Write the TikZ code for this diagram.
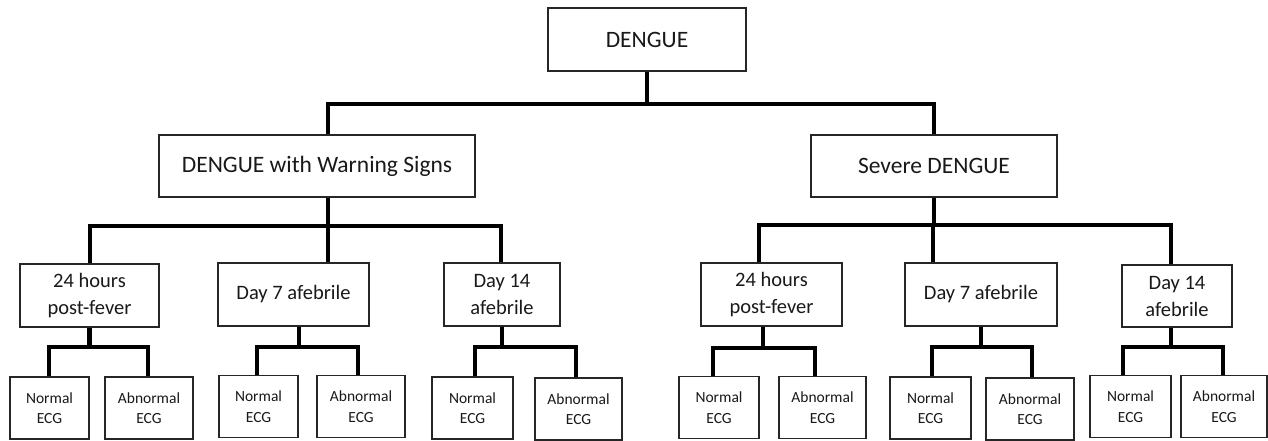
\documentclass[tikz,border=0pt]{standalone}
\usepackage{fontspec}
\setmainfont{Carlito}
\begin{document}
\begin{tikzpicture}[x=1pt,y=-1pt,
  box/.style={draw=black!85,line width=1.3pt,fill=white,inner sep=0pt,align=center,text=black!90},
  big/.style={box,font=\fontsize{23.5}{28}\selectfont},
  mid/.style={box,font=\fontsize{20.5}{27}\selectfont},
  ecg/.style={box,font=\fontsize{15.5}{20.5}\selectfont},
  conn/.style={line width=4.2pt,black}]
\useasboundingbox (0,0) rectangle (1268,440);
% level 0
\node[big,minimum width=198pt,minimum height=63pt] (root) at (647,39.5) {DENGUE};
% level 1
\node[big,minimum width=316pt,minimum height=62pt] (dw) at (317,166) {DENGUE with Warning Signs};
\node[big,minimum width=246pt,minimum height=62pt] (sd) at (934,166) {Severe DENGUE};
% level 2
\node[mid,minimum width=139pt,minimum height=63pt] (l1) at (89.5,295.5) {24 hours\\post-fever};
\node[mid,minimum width=151pt,minimum height=63pt] (l2) at (293.5,294.5) {Day 7 afebrile};
\node[mid,minimum width=116pt,minimum height=63pt] (l3) at (502,294.5) {Day 14\\afebrile};
\node[mid,minimum width=141pt,minimum height=63pt] (r1) at (771.5,294.5) {24 hours\\post-fever};
\node[mid,minimum width=152pt,minimum height=63pt] (r2) at (981,294.5) {Day 7 afebrile};
\node[mid,minimum width=110pt,minimum height=62pt] (r3) at (1177,296) {Day 14\\afebrile};
% level 3
\node[ecg,minimum width=79pt,minimum height=62pt] (l1n) at (49.5,408) {Normal\\ECG};
\node[ecg,minimum width=88pt,minimum height=62pt] (l1a) at (149,408) {Abnormal\\ECG};
\node[ecg,minimum width=79pt,minimum height=62pt] (l2n) at (258.5,406.5) {Normal\\ECG};
\node[ecg,minimum width=88pt,minimum height=62pt] (l2a) at (361,406.5) {Abnormal\\ECG};
\node[ecg,minimum width=81pt,minimum height=62pt] (l3n) at (472.5,408) {Normal\\ECG};
\node[ecg,minimum width=87pt,minimum height=62pt] (l3a) at (578.5,409) {Abnormal\\ECG};
\node[ecg,minimum width=80pt,minimum height=62pt] (r1n) at (719,407.5) {Normal\\ECG};
\node[ecg,minimum width=87pt,minimum height=62pt] (r1a) at (822.5,407.5) {Abnormal\\ECG};
\node[ecg,minimum width=81pt,minimum height=62pt] (r2n) at (930.5,408) {Normal\\ECG};
\node[ecg,minimum width=88pt,minimum height=62pt] (r2a) at (1030,409) {Abnormal\\ECG};
\node[ecg,minimum width=81pt,minimum height=62pt] (r3n) at (1130.5,406.5) {Normal\\ECG};
\node[ecg,minimum width=86pt,minimum height=62pt] (r3a) at (1224,406.5) {Abnormal\\ECG};
% junction coordinates
\coordinate (a0) at (328,104);  \coordinate (b0) at (934,104);
\coordinate (a1) at (90,226);   \coordinate (m1) at (328,226);  \coordinate (b1) at (501,226);
\coordinate (a2) at (759,225);  \coordinate (m2) at (933,225);  \coordinate (b2) at (1171,225);
\coordinate (p1) at (49,347);   \coordinate (q1) at (148,347);
\coordinate (p2) at (257,347);  \coordinate (q2) at (358,347);
\coordinate (p3) at (475,347);  \coordinate (q3) at (576,347);
\coordinate (p4) at (713,348);  \coordinate (q4) at (815,348);
\coordinate (p5) at (932,347);  \coordinate (q5) at (1032,347);
\coordinate (p6) at (1123,347); \coordinate (q6) at (1223,347);
% connectors level 0 -> 1
\draw[conn] (root.south) -- (root.south |- a0);
\draw[conn] (a0 |- dw.north) -- (a0) -- (b0) -- (b0 |- sd.north);
% level 1 -> 2 (left)
\draw[conn] (m1 |- dw.south) -- (m1);
\draw[conn] (a1 |- l1.north) -- (a1) -- (b1) -- (b1 |- l3.north);
\draw[conn] (m1) -- (m1 |- l2.north);
% level 1 -> 2 (right)
\draw[conn] (sd.south) -- (sd.south |- m2);
\draw[conn] (a2 |- r1.north) -- (a2) -- (b2) -- (b2 |- r3.north);
\draw[conn] (m2) -- (m2 |- r2.north);
% level 2 -> 3
\draw[conn] (l1.south) -- (l1.south |- p1);
\draw[conn] (p1 |- l1n.north) -- (p1) -- (q1) -- (q1 |- l1a.north);
\draw[conn] ([xshift=5.5pt]l2.south) -- ([xshift=5.5pt]l2.south |- p2);
\draw[conn] (p2 |- l2n.north) -- (p2) -- (q2) -- (q2 |- l2a.north);
\draw[conn] (l3.south) -- (l3.south |- p3);
\draw[conn] (p3 |- l3n.north) -- (p3) -- (q3) -- (q3 |- l3a.north);
\draw[conn] ([xshift=-8.5pt]r1.south) -- ([xshift=-8.5pt]r1.south |- p4);
\draw[conn] (p4 |- r1n.north) -- (p4) -- (q4) -- (q4 |- r1a.north);
\draw[conn] (r2.south) -- (r2.south |- p5);
\draw[conn] (p5 |- r2n.north) -- (p5) -- (q5) -- (q5 |- r2a.north);
\draw[conn] ([xshift=-6pt]r3.south) -- ([xshift=-6pt]r3.south |- p6);
\draw[conn] (p6 |- r3n.north) -- (p6) -- (q6) -- (q6 |- r3a.north);
\end{tikzpicture}
\end{document}
